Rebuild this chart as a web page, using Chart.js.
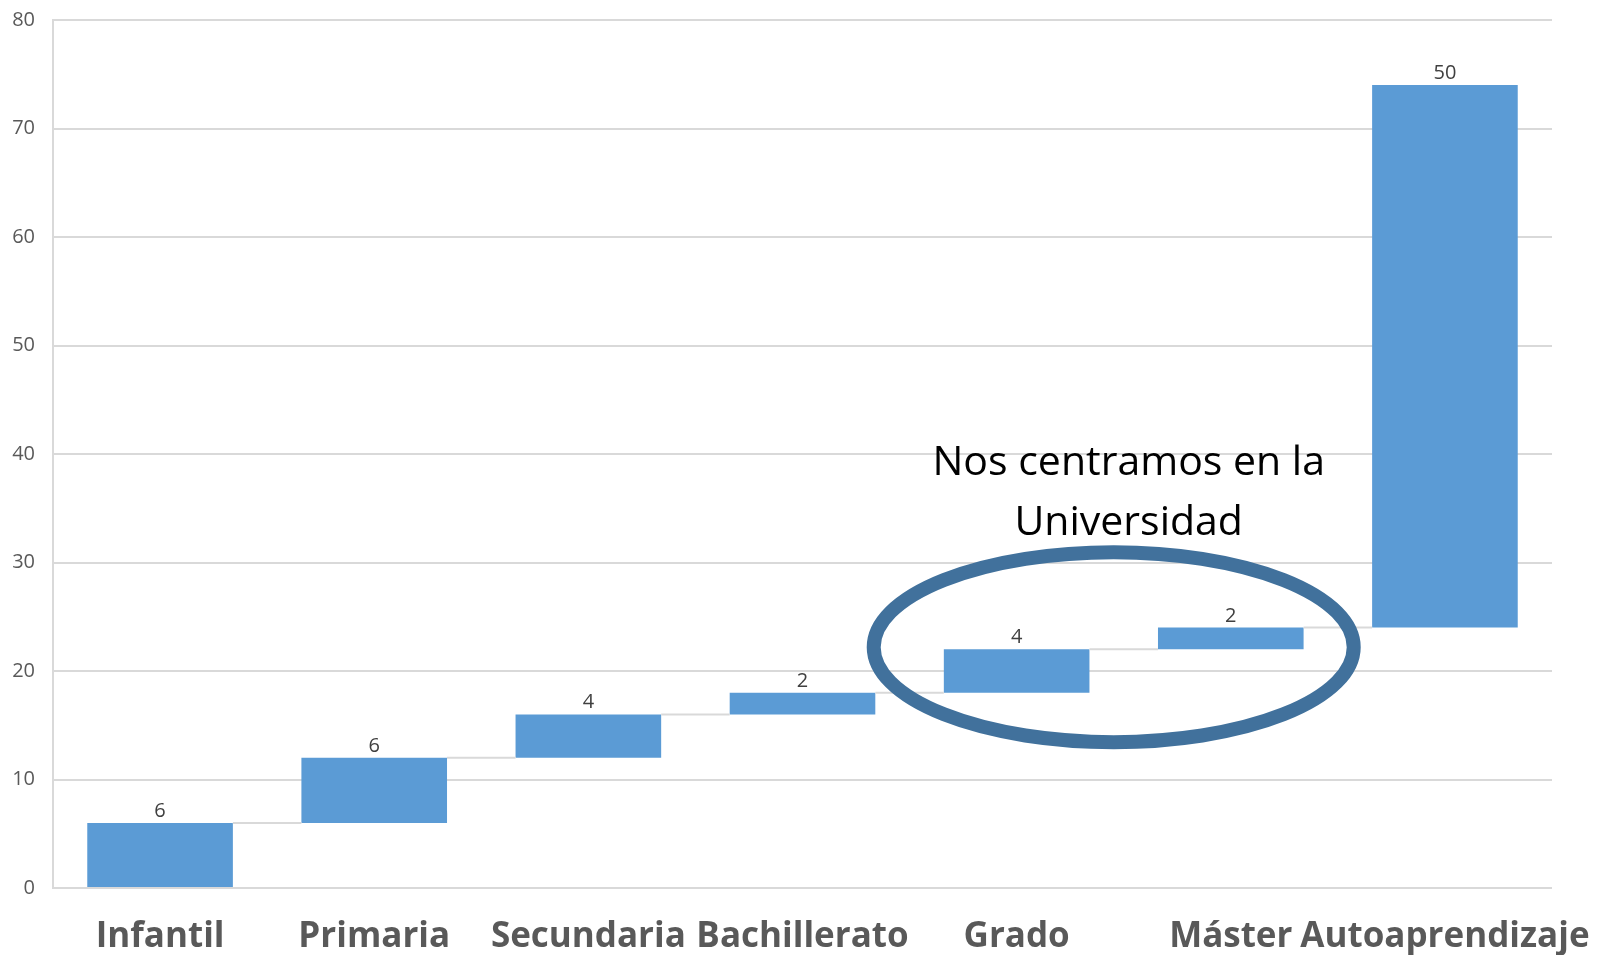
<!DOCTYPE html>
<html lang="es">

<head>
  <meta charset="UTF-8">
  <title>Cascada de aprendizaje</title>
  <script src="https://cdn.jsdelivr.net/npm/chart.js"></script>
  <style>
    html, body { margin: 0; padding: 0; background: #ffffff; }
    #wrap { width: 1597px; height: 955px; position: relative; }
  </style>
</head>

<body>
  <div id="wrap">
    <canvas id="waterfall"></canvas>
  </div>

  <script>
    // categories and the step that each one adds
    const categories = ['Infantil', 'Primaria', 'Secundaria', 'Bachillerato', 'Grado', 'Máster', 'Autoaprendizaje'];
    const increments = [6, 6, 4, 2, 4, 2, 50];
    const yTicks = [0, 10, 20, 30, 40, 50, 60, 70, 80];
    const noteLines = ['Nos centramos en la', 'Universidad'];

    // floating bars [start, end] for the waterfall
    const floating = [];
    let running = 0;
    increments.forEach(v => {
      floating.push([running, running + v]);
      running += v;
    });

    const FONT = '"Open Sans", "Noto Sans", sans-serif';

    // connectors, value labels and the highlight ellipse
    const waterfallExtras = {
      id: 'waterfallExtras',
      afterDatasetsDraw(chart) {
        const ctx = chart.ctx;
        const meta = chart.getDatasetMeta(0);
        const x = chart.scales.x;
        const y = chart.scales.y;

        ctx.save();
        // connector lines between bars
        ctx.strokeStyle = '#d9d9d9';
        ctx.lineWidth = 2;
        for (let i = 0; i < meta.data.length - 1; i++) {
          const a = meta.data[i], b = meta.data[i + 1];
          const yy = y.getPixelForValue(floating[i][1]);
          ctx.beginPath();
          ctx.moveTo(a.x + a.width / 2, yy);
          ctx.lineTo(b.x - b.width / 2, yy);
          ctx.stroke();
        }

        // value labels
        ctx.fillStyle = '#404040';
        ctx.font = '20px ' + FONT;
        ctx.textAlign = 'center';
        ctx.textBaseline = 'alphabetic';
        meta.data.forEach((bar, i) => {
          ctx.fillText(String(increments[i]), bar.x, y.getPixelForValue(floating[i][1]) - 6);
        });

        // ellipse around Grado / Máster
        const cx = (x.getPixelForValue(4) + x.getPixelForValue(5)) / 2 - 10;
        const cy = y.getPixelForValue(22.2);
        ctx.strokeStyle = '#41719c';
        ctx.lineWidth = 14;
        ctx.beginPath();
        ctx.ellipse(cx, cy, 240, 95, 0, 0, Math.PI * 2);
        ctx.stroke();

        // note text
        ctx.fillStyle = '#000000';
        ctx.font = '41px ' + FONT;
        ctx.fillText(noteLines[0], cx + 15, cy - 172);
        ctx.fillText(noteLines[1], cx + 15, cy - 112);
        ctx.restore();
      }
    };

    const ctx = document.getElementById('waterfall').getContext('2d');
    const chart = new Chart(ctx, {
      type: 'bar',
      data: {
        labels: categories,
        datasets: [{
          data: floating,
          backgroundColor: '#5b9bd5',
          borderWidth: 0,
          borderSkipped: false,
          categoryPercentage: 1,
          barPercentage: 0.68
        }]
      },
      options: {
        responsive: true,
        maintainAspectRatio: false,
        animation: false,
        layout: { padding: { left: 0, right: 45, top: 20, bottom: 0 } },
        plugins: {
          legend: { display: false },
          tooltip: { enabled: false }
        },
        scales: {
          x: {
            grid: { display: false },
            border: { display: false },
            ticks: {
              autoSkip: false,
              maxRotation: 0,
              color: '#595959',
              padding: 20,
              font: { family: FONT, size: 35, weight: 'bold' }
            },
            afterFit(scale) {
              scale.height = 67;
              scale.paddingLeft = 0;
              scale.paddingRight = 0;
            }
          },
          y: {
            min: 0,
            max: 80,
            afterBuildTicks(scale) { scale.ticks = yTicks.map(v => ({ value: v })); },
            grid: { color: '#d9d9d9', lineWidth: 2, drawTicks: false },
            border: { display: true, color: '#d9d9d9', width: 2 },
            ticks: {
              color: '#595959',
              padding: 18,
              font: { family: FONT, size: 20 }
            },
            afterFit(scale) {
              scale.width = 53;
              scale.paddingTop = 0;
              scale.paddingBottom = 0;
            }
          }
        }
      },
      plugins: [waterfallExtras]
    });
  </script>
</body>

</html>
